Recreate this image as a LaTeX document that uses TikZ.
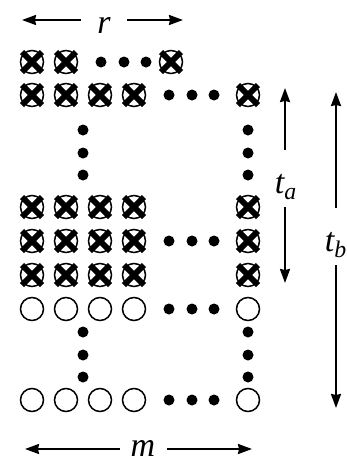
\documentclass[tikz,border=0pt]{standalone}
\usepackage{fontspec}
\setmainfont{Liberation Serif}
\usetikzlibrary{arrows.meta}

\begin{document}
\begin{tikzpicture}[
    x=0.5pt, y=-0.5pt,
    cell/.style={circle, draw, line width=0.75pt, minimum size=11.5pt, inner sep=0pt},
    dot/.style={circle, fill, minimum size=5.5pt, inner sep=0pt},
    xline/.style={line width=3pt},
    arrow/.style={-{Stealth[length=7pt, width=5pt, inset=0.5pt]}, line width=1pt},
    lbl/.style={font=\fontsize{17}{19}\selectfont\itshape, inner sep=0pt},
]
\useasboundingbox (0,0) rectangle (347,461);

% top row
\foreach \x/\n in {32/a1, 66/a2, 171/a3} \node[cell] (\n) at (\x,62) {};
\foreach \x [count=\i] in {101,124,146} \node[dot] (ad\i) at (\x,62) {};

% full rows
\foreach \r/\y in {b/95, c/207, d/241, e/275, f/309, g/400}
  \foreach \x [count=\i] in {32,66,100,134,248} \node[cell] (\r\i) at (\x,\y) {};
\foreach \r/\y in {b/95, d/241, f/309, g/400}
  \foreach \x [count=\i] in {169,192,214} \node[dot] (\r d\i) at (\x,\y) {};

% vertical dots
\foreach \y [count=\i] in {130,153,175} {
  \node[dot] (vl\i) at (83,\y) {};
  \node[dot] (vr\i) at (248,\y) {};
}
\foreach \y [count=\i] in {332,355,377} {
  \node[dot] (wl\i) at (83,\y) {};
  \node[dot] (wr\i) at (248,\y) {};
}

% crossed cells
\foreach \n in {a1,a2,a3,b1,b2,b3,b4,b5,c1,c2,c3,c4,c5,d1,d2,d3,d4,d5,e1,e2,e3,e4,e5}
  \draw[xline] (\n) ++(-10,-10) -- ++(20,20) ++(0,-20) -- ++(-20,20);

% dimension arrows
\node[lbl] (r) at (104,25) {r};
\coordinate (rA) at (81,20);  \coordinate (rL) at (22,20);
\coordinate (rB) at (127,20); \coordinate (rR) at (183,20);
\draw[arrow] (rA) -- (rL);
\draw[arrow] (rB) -- (rR);

\node[lbl] (m) at (143,448) {m};
\coordinate (mA) at (120,449); \coordinate (mL) at (25,449);
\coordinate (mB) at (167,449); \coordinate (mR) at (252,449);
\draw[arrow] (mA) -- (mL);
\draw[arrow] (mB) -- (mR);

\node[lbl] (ta) at (286,187) {t\textsubscript{a}};
\coordinate (taA) at (285,150); \coordinate (taU) at (285,88);
\coordinate (taB) at (285,207); \coordinate (taD) at (285,283);
\draw[arrow] (taA) -- (taU);
\draw[arrow] (taB) -- (taD);

\node[lbl] (tb) at (336,245) {t\textsubscript{b}};
\coordinate (tbA) at (336,208); \coordinate (tbU) at (336,92);
\coordinate (tbB) at (336,265); \coordinate (tbD) at (336,408);
\draw[arrow] (tbA) -- (tbU);
\draw[arrow] (tbB) -- (tbD);
\end{tikzpicture}
\end{document}
